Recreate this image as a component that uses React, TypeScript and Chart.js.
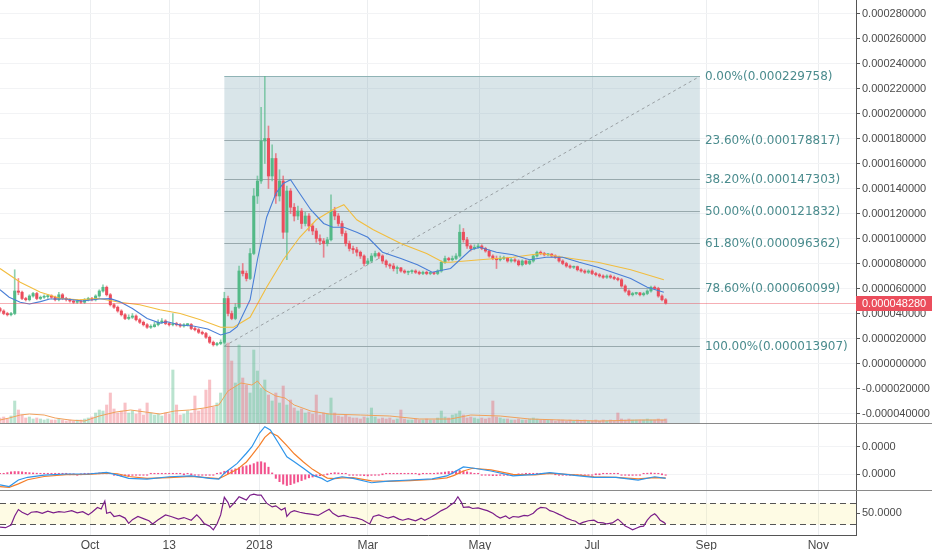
import React, { useEffect, useRef } from "react";
import { Chart, registerables } from "chart.js";

Chart.register(...registerables);
Chart.defaults.font.family = '"Liberation Sans", Arial, sans-serif';
Chart.defaults.font.size = 11;

// x axis: days since 13 Aug 2017, one candle every 2 days
const DAY_MAX = 465.5;
const monthTickDays = [49, 92, 141, 200, 261, 322, 384, 445];
const monthTickLabels = ["Oct", "13", "2018", "Mar", "May", "Jul", "Sep", "Nov"];

// all prices are in units of 1e-6
const priceTicks = [-40, -20, 0, 20, 40, 60, 80, 100, 120, 140, 160, 180, 200, 220, 240, 260, 280];
const macdTicks = [0, 10];
const rsiTicks = [50];
const lastPrice = 48.28;

// [open, high, low, close]
const candles: number[][] = [
  [44, 45, 41, 42], [42, 43, 39, 40], [40, 41, 38, 39], [39, 41, 38, 40], [40, 75, 39, 58], [58, 68, 55, 57], [57, 58, 51, 52], [52, 53, 50, 51], [51, 55, 50, 54], [54, 57, 53, 56],
  [56, 57, 51, 52], [52, 54, 51, 53], [53, 55, 52, 53.5], [53.5, 55, 52, 54], [54, 55, 52, 53], [53, 54, 50, 51], [51, 57, 50, 55], [55, 56, 51, 52], [52, 53, 50, 51], [51, 52, 49, 50],
  [50, 51, 48, 49], [49, 51, 48, 50], [50, 51, 48, 49], [49, 52, 48, 51], [51, 53, 50, 52], [52, 53, 50, 51], [51, 55, 50, 54], [54, 59, 53, 58], [58, 63, 57, 61], [61, 62, 54, 55],
  [55, 56, 46, 47], [47, 48, 44, 45], [45, 46, 41, 42], [42, 43, 38, 39], [39, 40, 35, 36], [36, 39, 35, 37], [37, 40, 36, 38], [38, 39, 34, 35], [35, 36, 32, 33], [33, 34, 30, 31],
  [31, 32, 28, 29], [29, 31, 28, 29.5], [29.5, 33, 29, 31], [31, 35, 30, 33], [33, 36, 32, 34], [34, 35, 31, 32], [32, 33, 30, 31], [31, 40, 30, 31.5], [31.5, 33, 30, 31], [31, 32, 29, 30],
  [30, 32, 29, 31], [31, 32, 30, 31.2], [31.2, 32, 27, 28], [28, 29, 26, 27], [27, 28, 24, 25], [25, 26, 23, 24], [24, 25, 20, 21], [21, 22, 16, 17], [17, 18, 13.9, 15], [15, 17, 14, 16],
  [16, 19, 15, 17], [17, 57, 16, 52], [52, 54, 38, 40], [40, 42, 35, 36], [36, 48, 35, 45], [45, 78, 44, 74], [74, 80, 70, 72], [72, 74, 66, 68], [68, 92, 67, 88], [88, 140, 87, 134],
  [134, 150, 128, 146], [146, 205, 144, 178], [178, 229.758, 160, 180], [180, 190, 140, 150], [150, 175, 146, 164], [164, 168, 128, 134], [134, 155, 130, 146], [146, 150, 100, 105], [105, 142, 83, 138], [138, 140, 120, 125],
  [125, 128, 114, 118], [118, 126, 115, 122], [122, 124, 108, 112], [112, 121, 110, 118], [118, 120, 106, 110], [110, 112, 103, 106], [106, 108, 97, 100], [100, 103, 95, 98], [98, 100, 85, 96], [96, 101, 94, 99],
  [99, 135, 98, 122], [122, 125, 115, 118], [118, 120, 110, 112], [112, 114, 102, 104], [104, 106, 94, 96], [96, 98, 90, 92], [92, 94, 88, 91], [91, 93, 86, 89], [89, 90, 84, 86], [86, 87, 78, 80],
  [80, 84, 79, 82], [82, 88, 81, 86], [86, 90, 85, 88], [88, 89, 84, 86], [86, 87, 80, 82], [82, 83, 77, 79], [79, 80, 76, 78], [78, 80, 74, 76], [76, 78, 72, 76.5], [76.5, 77, 73, 74],
  [74, 75, 72, 73], [73, 74, 71, 73.5], [73.5, 75, 72, 74], [74, 75, 72, 73], [73, 74, 71, 72], [72, 74, 71, 73], [73, 74, 71, 72], [72, 73, 71, 72.5], [72.5, 73, 71, 72], [72, 75, 71, 74],
  [74, 82, 73, 81], [81, 86, 80, 84], [84, 85, 82, 83], [83, 86, 82, 84], [84, 88, 83, 86], [86, 111, 85, 105], [105, 108, 97, 99], [99, 101, 92, 94], [94, 95, 90, 92], [92, 95, 91, 93],
  [93, 96, 92, 94], [94, 95, 91, 92], [92, 93, 89, 90], [90, 91, 85, 86], [86, 87, 83, 84], [84, 86, 76, 83], [83, 86, 82, 84], [84, 86, 83, 84.5], [84.5, 85, 81, 82], [82, 84, 81, 83],
  [83, 84, 81, 82], [82, 83, 78, 79], [79, 83, 78, 82], [82, 83, 79, 80], [80, 83, 79, 82], [82, 87, 81, 86], [86, 90, 85, 89], [89, 90, 87, 88], [88, 89, 86, 87], [87, 88, 86, 87.5],
  [87.5, 88, 85, 86], [86, 87, 84, 85], [85, 86, 81, 82], [82, 83, 79, 80], [80, 81, 77, 78], [78, 79, 76, 77], [77, 78, 76, 77.5], [77.5, 78, 74, 75], [75, 76, 73, 74], [74, 75, 72, 73],
  [73, 75, 72, 74], [74, 75, 71, 72], [72, 73, 70, 71], [71, 72, 69, 70], [70, 71, 68, 69], [69, 71, 68, 70], [70, 71, 68, 69], [69, 70, 67, 68], [68, 69, 66, 67], [67, 68, 61, 62],
  [62, 63, 57, 58], [58, 59, 54, 55], [55, 57, 54, 56], [56, 57, 55, 56.5], [56.5, 57, 54, 55], [55, 57, 54, 56], [56, 59, 55, 58], [58, 62, 57, 61], [61, 62, 59, 60], [60, 61, 53, 54],
  [54, 55, 50, 51], [51, 52, 47.5, 48.28],
];

const volumes = [
  5, 6, 4, 7, 22, 13, 8, 5, 6, 4,
  5, 4, 3, 4, 3, 3, 4, 3, 2, 3,
  2, 3, 3, 4, 5, 6, 10, 13, 12, 18,
  30, 14, 10, 12, 20, 10, 12, 9, 14, 8,
  20, 10, 8, 9, 7, 10, 9, 53, 18, 8,
  9, 12, 10, 27, 12, 14, 33, 43, 16, 20,
  30, 90, 80, 62, 40, 78, 45, 38, 30, 73,
  52, 35, 43, 28, 22, 30, 20, 37, 18, 23,
  15, 12, 14, 10, 11, 9, 28, 8, 10, 9,
  25, 10, 7, 6, 8, 6, 5, 5, 4, 6,
  5, 15, 6, 4, 5, 4, 5, 3, 4, 13,
  4, 3, 3, 4, 3, 3, 4, 3, 3, 5,
  12, 6, 5, 8, 9, 12, 8, 5, 6, 5,
  4, 5, 4, 5, 22, 6, 5, 4, 4, 3,
  3, 4, 3, 3, 4, 5, 4, 3, 3, 3,
  3, 2, 3, 3, 2, 3, 2, 3, 2, 3,
  2, 2, 3, 2, 3, 2, 3, 2, 10, 4,
  3, 4, 3, 3, 3, 3, 4, 3, 3, 4,
  3, 4,
];

const macdHist = [
  0.3, 0.3, 0.6, 0.9, 1.0, 1.0, 0.9, 0.7, 0.6, 0.5,
  0.4, 0.3, 0.3, 0.2, 0.2, 0.1, 0.1, 0.1, 0.1, 0.0,
  0.0, -0.1, 0.0, 0.1, 0.2, 0.3, 0.4, 0.5, 0.6, 0.5,
  0.2, -0.2, -0.5, -0.7, -0.6, -0.5, -0.4, -0.3, -0.3, -0.2,
  -0.1, 0.1, 0.2, 0.3, 0.3, 0.3, 0.3, 0.2, 0.1, 0.1,
  0.0, 0.1, 0.0, -0.1, -0.2, -0.2, -0.2, -0.3, -0.1, 0.1,
  0.6, 1.1, 1.4, 1.6, 2.0, 2.4, 2.8, 3.1, 3.4, 3.9,
  4.5, 4.6, 4.2, 2.6, 0.5, -1.5, -2.7, -3.6, -4.1, -3.8,
  -3.3, -2.8, -2.3, -1.8, -1.3, -1.0, -0.7, -0.5, -0.3, 0.0,
  0.4, 0.6, 0.5, 0.3, 0.1, -0.1, -0.2, -0.3, -0.4, -0.5,
  -0.6, -0.4, -0.3, -0.1, 0.0, 0.1, 0.2, 0.2, 0.3, 0.2,
  0.2, 0.2, 0.1, 0.1, 0.0, 0.1, 0.1, 0.2, 0.3, 0.5,
  0.6, 0.8, 1.0, 1.1, 1.2, 1.4, 1.2, 0.9, 0.6, 0.3,
  0.1, -0.1, -0.3, -0.4, -0.5, -0.5, -0.4, -0.4, -0.3, -0.2,
  -0.1, 0.0, 0.0, 0.1, 0.1, 0.2, 0.3, 0.3, 0.2, 0.2,
  0.1, 0.0, -0.1, -0.1, -0.1, -0.2, -0.2, -0.2, -0.1, -0.1,
  -0.1, -0.1, 0.0, 0.0, 0.1, 0.1, 0.2, 0.2, 0.1, -0.1,
  -0.3, -0.4, -0.4, -0.3, -0.1, 0.2, 0.4, 0.5, 0.4, 0.2,
  0.0, -0.2,
];

// [day, value]
const ma20 = [
  [0, 59], [5, 53], [11, 49], [16, 47.6], [22, 49.5], [27, 51.6], [36, 51.6], [45, 50], [54, 51.6], [60, 51.9],
  [65, 49.5], [72, 44], [80, 36], [87, 32.3], [91, 33.4], [98, 30.8], [105, 30], [113, 27.6], [120, 22.8], [125, 25],
  [129, 29.4], [136, 51], [140, 83], [145, 117], [150, 136], [154, 144], [158, 147], [163, 136], [169, 123], [176, 112],
  [181, 109], [187, 109], [194, 105], [200, 101], [208, 89], [218, 84], [227, 79], [235, 73], [245, 76], [256, 91],
  [261, 93], [270, 89], [279, 87], [288, 83], [297, 85], [306, 85], [315, 81], [325, 77], [333, 73], [343, 68],
  [352, 61], [361, 57],
];
const ma50 = [
  [0, 76], [11, 65], [22, 57], [33, 52], [43, 51], [54, 52], [65, 49], [76, 47], [87, 43], [98, 40],
  [109, 35], [120, 29], [127, 29], [136, 37], [145, 61], [154, 83], [163, 101], [172, 115], [181, 123], [187, 127],
  [194, 115], [203, 107], [218, 96], [232, 88], [241, 81], [245, 81], [261, 83], [279, 85], [294, 88], [306, 85],
  [325, 81], [343, 75], [361, 67],
];
const volMa = [
  [0, 3], [5, 5], [11, 8], [16, 9], [24, 8], [30, 5], [38, 3], [46, 2], [54, 7], [63, 11],
  [71, 13], [79, 11], [87, 9], [95, 12], [103, 13], [111, 15], [119, 18], [124, 32], [131, 40], [137, 38],
  [140, 42], [144, 33], [150, 27], [155, 25], [160, 18], [169, 12], [179, 9], [196, 8], [212, 7], [228, 4],
  [245, 4], [256, 8], [272, 7], [288, 4], [305, 3], [326, 2], [348, 3], [362, 3],
];
const macdLine = [
  [0, -3.9], [5, -4.5], [10, -2.1], [15, -1.1], [24, -0.3], [36, 0.1], [48, 0.1], [58, 0.7], [64, -0.3], [70, -1.5],
  [80, -1.8], [92, -0.9], [104, -0.6], [114, -1.5], [119, -1.8], [122, 0.4], [129, 4.0], [134, 7.7], [137, 10.1], [141, 15.0],
  [144, 17.4], [147, 16.2], [151, 11.9], [156, 6.4], [160, 4.6], [165, 2.2], [170, -0.3], [175, -1.5], [178, -2.7], [182, -1.5],
  [186, -0.9], [192, -1.5], [202, -3.1], [211, -2.5], [223, -2.1], [235, -1.7], [243, -0.6], [247, 0.8], [252, 2.7], [257, 2.3],
  [267, 1.2], [279, -0.6], [291, 0], [299, 0.6], [315, -0.6], [323, -1.1], [335, -1.1], [347, -2.1], [356, -0.9], [362, -1.5],
];
const signalLine = [
  [0, -4.5], [5, -4.8], [10, -3.5], [15, -2], [24, -0.8], [36, -0.1], [48, 0], [58, 0.4], [64, 0.2], [70, -0.8],
  [80, -1.5], [92, -1.2], [104, -0.8], [114, -1.3], [119, -1.6], [122, -0.6], [129, 1.8], [134, 4.5], [137, 7.0], [141, 10.5],
  [144, 13.5], [147, 15.3], [151, 14], [156, 10.5], [160, 7.5], [165, 4.5], [170, 1.8], [175, -0.3], [178, -1.4], [182, -1.6],
  [186, -1.3], [192, -1.2], [202, -2.4], [211, -2.6], [223, -2.3], [235, -1.9], [243, -1.3], [247, -0.4], [252, 1.2], [257, 2.2],
  [267, 1.6], [279, 0], [291, -0.2], [299, 0.3], [315, -0.3], [323, -0.9], [335, -1.1], [347, -1.7], [356, -1.2], [362, -1.3],
];
const rsiLine = [
  [0, 24], [3, 23], [6, 28], [8, 45], [10, 57], [12, 52], [15, 47], [17, 52], [20, 53], [23, 50],
  [26, 54], [29, 51], [32, 53], [35, 52], [39, 55], [42, 51], [45, 53], [48, 47], [50, 52], [53, 61],
  [55, 58], [57, 73], [58, 50], [60, 52], [62, 44], [65, 46], [68, 41], [70, 31], [72, 38], [75, 44],
  [78, 40], [81, 36], [83, 30], [86, 38], [90, 47], [93, 44], [97, 39], [100, 42], [104, 37], [107, 47],
  [109, 40], [111, 31], [114, 26], [116, 19], [118, 30], [120, 47], [122, 80], [124, 70], [125, 61], [127, 68],
  [130, 81], [132, 78], [134, 75], [136, 84], [138, 86], [140, 84], [142, 84], [144, 74], [145, 69], [148, 62],
  [150, 64], [153, 56], [155, 60], [156, 44], [158, 52], [160, 55], [163, 52], [166, 50], [170, 48], [173, 46],
  [176, 52], [179, 57.5], [181, 50], [184, 44], [187, 46], [190, 43], [194, 41], [197, 38], [201, 30], [203, 44],
  [206, 47], [209, 43], [211, 41], [214, 44], [217, 39], [219, 37], [222, 40], [226, 36], [229, 41], [231, 37],
  [234, 42], [237, 48], [240, 55], [243, 60], [245, 65.6], [247, 70], [249, 81], [251, 70], [252, 61], [255, 62],
  [257, 59], [260, 60], [263, 57], [265, 55], [268, 50], [270, 45], [272, 41], [275, 45], [277, 40], [279, 44],
  [282, 43], [285, 46], [287, 45], [290, 50], [292, 57], [294, 61], [297, 60], [299, 55], [301, 53], [304, 48],
  [306, 45], [308, 41], [311, 37], [313, 35], [315, 30], [317, 33], [320, 36], [323, 37], [325, 33], [328, 32],
  [330, 30], [333, 32], [336, 39], [338, 33], [340, 26], [342, 23], [344, 19], [346, 22], [348, 25], [350, 26],
  [352, 37], [354, 45], [356, 49], [357, 46], [359, 37], [361, 33], [362, 30],
];

// Fibonacci retracement
const fibStartDay = 122;
const fibEndDay = 380.6;
const fibRatios = [0, 0.236, 0.382, 0.5, 0.618, 0.786, 1];
const fibPrices = [229.758, 178.817, 147.303, 121.832, 96.362, 60.099, 13.907];

const GREEN = "#53b987";
const RED = "#eb4d5c";
const AXIS = "#555555";
const TEXT = "#4a4a4a";

const setMonthTicks = (s: any) => {
  s.ticks = monthTickDays.map((value) => ({ value }));
};
const noPad = (s: any) => {
  s.paddingTop = 0;
  s.paddingBottom = 0;
  s.paddingLeft = 0;
  s.paddingRight = 0;
};
const pts = (arr: number[][]) => arr.map(([x, y]) => ({ x, y }));

const hiddenX = {
  type: "linear" as const,
  min: 0,
  max: DAY_MAX,
  offset: false,
  afterBuildTicks: setMonthTicks,
  afterFit: noPad,
  ticks: { display: false },
  grid: { color: "#eceef0", drawTicks: false, offset: false },
  border: { display: false },
};

const rightAxis = (min: number, max: number, ticks: number[], fmt: (v: number) => string, gridColor: string) => ({
  type: "linear" as const,
  position: "right" as const,
  min,
  max,
  afterBuildTicks: (s: any) => {
    s.ticks = ticks.map((value) => ({ value }));
  },
  afterFit: (s: any) => {
    s.width = 76;
    noPad(s);
  },
  ticks: { callback: (v: any) => fmt(Number(v)), color: TEXT, font: { size: 11 }, padding: 2 },
  grid: { color: gridColor, tickColor: AXIS, tickLength: 4 },
  border: { color: AXIS },
});

const fibPlugin = {
  id: "fib",
  beforeDatasetsDraw(chart: any) {
    const { ctx, chartArea, scales } = chart;
    const x0 = scales.x.getPixelForValue(fibStartDay);
    const x1 = scales.x.getPixelForValue(fibEndDay);
    const yTop = scales.y.getPixelForValue(fibPrices[0]);
    ctx.save();
    ctx.fillStyle = "rgba(120,160,175,0.28)";
    ctx.fillRect(x0, yTop, x1 - x0, chartArea.bottom - yTop);
    ctx.lineWidth = 1;
    ctx.font = '12px "DejaVu Sans", sans-serif';
    ctx.textBaseline = "middle";
    fibPrices.forEach((p, i) => {
      const py = Math.round(scales.y.getPixelForValue(p)) + 0.5;
      ctx.strokeStyle = i === 0 ? "#8fb3b5" : "#98a9ad";
      ctx.beginPath();
      ctx.moveTo(x0, py);
      ctx.lineTo(x1, py);
      ctx.stroke();
      ctx.fillStyle = "#4b8c8e";
      ctx.fillText(`${(fibRatios[i] * 100).toFixed(2)}%(${(p / 1e6).toFixed(9)})`, x1 + 5, py);
    });
    ctx.setLineDash([3, 3]);
    ctx.strokeStyle = "#9aa0a4";
    ctx.beginPath();
    ctx.moveTo(x0, scales.y.getPixelForValue(fibPrices[fibPrices.length - 1]));
    ctx.lineTo(x1, yTop);
    ctx.stroke();
    ctx.restore();
  },
};

const pricePlugin = {
  id: "price",
  afterDatasetsDraw(chart: any) {
    const { ctx, chartArea, scales } = chart;
    const py = Math.round(scales.y.getPixelForValue(lastPrice)) + 0.5;
    ctx.save();
    ctx.strokeStyle = "rgba(235,77,92,0.45)";
    ctx.lineWidth = 1;
    ctx.beginPath();
    ctx.moveTo(chartArea.left, py);
    ctx.lineTo(chartArea.right, py);
    ctx.stroke();
    ctx.fillStyle = RED;
    ctx.fillRect(chartArea.right, py - 7.5, chart.width - chartArea.right, 15);
    ctx.fillStyle = "#ffffff";
    ctx.font = '11px "Liberation Sans", Arial, sans-serif';
    ctx.textBaseline = "middle";
    ctx.fillText((lastPrice / 1e6).toFixed(9), chartArea.right + 6, py);
    ctx.restore();
  },
};

const rsiBandPlugin = {
  id: "rsiBand",
  beforeDatasetsDraw(chart: any) {
    const { ctx, chartArea, scales } = chart;
    const y70 = Math.round(scales.y.getPixelForValue(70)) + 0.5;
    const y30 = Math.round(scales.y.getPixelForValue(30)) + 0.5;
    ctx.save();
    ctx.fillStyle = "rgba(250,235,120,0.2)";
    ctx.fillRect(chartArea.left, y70, chartArea.right - chartArea.left, y30 - y70);
    ctx.strokeStyle = "#555555";
    ctx.lineWidth = 1.2;
    ctx.setLineDash([6, 4]);
    [y70, y30].forEach((py) => {
      ctx.beginPath();
      ctx.moveTo(chartArea.left, py);
      ctx.lineTo(chartArea.right, py);
      ctx.stroke();
    });
    ctx.restore();
  },
};

const baseOptions = {
  animation: false as const,
  responsive: true,
  maintainAspectRatio: false,
  events: [] as any[],
  layout: { padding: 0 },
  plugins: { legend: { display: false }, tooltip: { enabled: false } },
};

export default function App() {
  const mainRef = useRef<HTMLCanvasElement | null>(null);
  const macdRef = useRef<HTMLCanvasElement | null>(null);
  const rsiRef = useRef<HTMLCanvasElement | null>(null);

  useEffect(() => {
    if (!mainRef.current || !macdRef.current || !rsiRef.current) return;
    const up = candles.map((c) => c[3] >= c[0]);

    const main = new Chart(mainRef.current, {
      type: "line",
      data: {
        datasets: [
          { type: "line", data: pts(ma20), borderColor: "#4a7fd6", borderWidth: 1.1, pointRadius: 0, tension: 0, order: 0 },
          { type: "line", data: pts(ma50), borderColor: "#f2bd3f", borderWidth: 1.1, pointRadius: 0, tension: 0, order: 1 },
          {
            type: "bar",
            data: candles.map((c, i) => ({ x: i * 2, y: [Math.min(c[0], c[3]), Math.max(c[0], c[3])] })),
            backgroundColor: up.map((u) => (u ? GREEN : RED)),
            barThickness: 2.4,
            minBarLength: 1,
            grouped: false,
            order: 2,
          },
          {
            type: "bar",
            data: candles.map((c, i) => ({ x: i * 2, y: [c[2], c[1]] })),
            backgroundColor: up.map((u) => (u ? "rgba(83,185,135,0.65)" : "rgba(235,77,92,0.65)")),
            barThickness: 1,
            grouped: false,
            order: 3,
          },
          { type: "line", yAxisID: "yVol", data: pts(volMa), borderColor: "#f0a05a", borderWidth: 1, pointRadius: 0, tension: 0, order: 4 },
          {
            type: "bar",
            yAxisID: "yVol",
            data: volumes.map((v, i) => ({ x: i * 2, y: v })),
            backgroundColor: up.map((u) => (u ? "rgba(83,185,135,0.4)" : "rgba(235,77,92,0.35)")),
            barThickness: 2.4,
            grouped: false,
            order: 5,
          },
        ] as any,
      },
      options: {
        ...baseOptions,
        scales: {
          x: hiddenX,
          y: rightAxis(-47.6, 290.8, priceTicks, (v) => (v / 1e6).toFixed(9), "#f2f3f5"),
          yVol: { type: "linear", display: false, min: 0, max: 423 },
        },
      } as any,
      plugins: [fibPlugin, pricePlugin],
    });

    const macd = new Chart(macdRef.current, {
      type: "line",
      data: {
        datasets: [
          { type: "line", data: pts(macdLine), borderColor: "#2f95ea", borderWidth: 1.2, pointRadius: 0, tension: 0, order: 0 },
          { type: "line", data: pts(signalLine), borderColor: "#f57f2a", borderWidth: 1.2, pointRadius: 0, tension: 0, order: 1 },
          {
            type: "bar",
            data: macdHist.map((v, i) => ({ x: i * 2, y: v })),
            backgroundColor: "rgba(240,50,120,0.85)",
            barThickness: 1.4,
            minBarLength: 1,
            grouped: false,
            order: 2,
          },
        ] as any,
      },
      options: {
        ...baseOptions,
        scales: {
          x: hiddenX,
          y: rightAxis(-5.75, 18.4, macdTicks, (v) => (v / 1e6).toFixed(4), "#f2f3f5"),
        },
      } as any,
    });

    const rsiY = rightAxis(9.3, 91.8, rsiTicks, (v) => v.toFixed(4), "#ffffff") as any;
    rsiY.grid = { drawOnChartArea: false, tickColor: AXIS, tickLength: 4 };
    const rsi = new Chart(rsiRef.current, {
      type: "line",
      data: {
        datasets: [
          { type: "line", data: pts(rsiLine), borderColor: "#7b1f8a", borderWidth: 1.2, pointRadius: 0, tension: 0 },
        ] as any,
      },
      options: {
        ...baseOptions,
        scales: {
          x: {
            type: "linear",
            min: 0,
            max: DAY_MAX,
            offset: false,
            afterBuildTicks: setMonthTicks,
            afterFit: (s: any) => {
              s.height = 15;
              noPad(s);
            },
            ticks: {
              autoSkip: false,
              maxRotation: 0,
              padding: 3,
              color: TEXT,
              font: { size: 12 },
              callback: (v: any) => monthTickLabels[monthTickDays.indexOf(Number(v))] ?? "",
            },
            grid: { color: "#eceef0", drawTicks: false },
            border: { color: AXIS },
          },
          y: rsiY,
        },
      } as any,
      plugins: [rsiBandPlugin],
    });

    return () => {
      main.destroy();
      macd.destroy();
      rsi.destroy();
    };
  }, []);

  const pane = (top: number, height: number): React.CSSProperties => ({
    position: "absolute",
    left: 0,
    top,
    width: 932,
    height,
  });

  return (
    <div style={{ position: "absolute", left: 0, top: 0, width: 932, height: 550, background: "#ffffff", overflow: "hidden" }}>
      <div style={pane(0, 423)}>
        <canvas ref={mainRef} />
      </div>
      <div style={{ ...pane(423, 1), background: "#8a8a8a" }} />
      <div style={pane(424, 66)}>
        <canvas ref={macdRef} />
      </div>
      <div style={{ ...pane(490, 1), background: "#8a8a8a" }} />
      <div style={pane(491, 59)}>
        <canvas ref={rsiRef} />
      </div>
    </div>
  );
}
